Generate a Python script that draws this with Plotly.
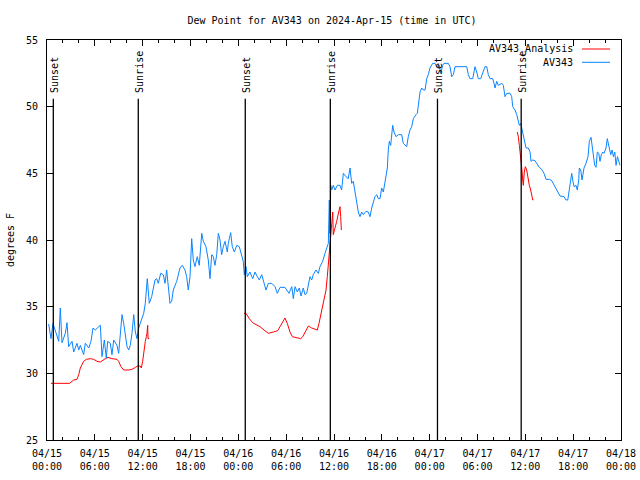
import pandas as pd
import plotly.graph_objects as go

BASE = pd.Timestamp("2024-04-15 00:00")

# AV343 observations: hours after 2024-04-15 00:00 UTC, dew point (deg F)
av343_hours = [0.21, 0.50, 0.75, 1.13, 1.47, 1.67, 1.88, 2.30, 2.51, 2.72, 3.14, 3.35, 3.76, 3.98, 4.18,
               4.60, 4.80, 5.23, 5.52, 5.77, 6.06, 6.49, 6.69, 6.90, 7.19, 7.44, 7.61, 7.94, 8.15, 8.37,
               8.78, 8.99, 9.41, 9.62, 9.82, 10.04, 10.25, 10.45, 10.66, 10.88, 11.08, 11.29, 11.50, 11.79,
               12.13, 12.33, 12.51, 12.58, 12.83, 13.13, 13.55, 13.76, 13.96, 14.26, 14.59, 14.80, 15.01,
               15.22, 15.43, 15.64, 15.84, 16.27, 16.68, 16.97, 17.31, 17.52, 17.72, 17.94, 18.15, 18.35,
               18.56, 18.85, 19.10, 19.41, 19.61, 19.94, 20.23, 20.45, 20.66, 20.86, 21.07, 21.29, 21.49,
               21.70, 21.91, 22.11, 22.33, 22.62, 22.74, 23.04, 23.24, 23.50, 23.80, 24.12, 24.42, 24.62,
               24.75, 24.96, 25.13, 25.46, 25.80, 26.09, 26.38, 26.63, 26.93, 27.22, 27.47, 27.76, 28.19,
               28.60, 28.89, 29.23, 29.85, 30.07, 30.36, 30.70, 30.90, 31.11, 31.40, 31.65, 31.86, 32.15,
               32.36, 32.58, 32.78, 32.99, 33.20, 33.40, 33.74, 34.03, 34.24, 34.58, 34.87, 35.09, 35.29,
               35.41, 35.50, 35.59, 35.71, 35.91, 36.13, 36.42, 36.75, 36.96, 37.17, 37.50, 37.79, 38.01,
               38.22, 38.42, 38.63, 38.85, 39.05, 39.26, 39.47, 39.68, 40.01, 40.30, 40.52, 40.73, 40.93,
               41.14, 41.36, 41.56, 41.77, 41.98, 42.19, 42.40, 42.52, 42.69, 42.81, 42.94, 43.11, 43.36,
               43.53, 43.78, 44.07, 44.49, 44.69, 45.12, 45.32, 45.53, 45.75, 45.95, 46.29, 46.45, 46.58,
               46.79, 47.00, 47.20, 47.42, 47.63, 47.83, 48.04, 48.38, 48.67, 48.88, 49.21, 49.38, 49.63,
               49.80, 50.34, 50.55, 50.76, 50.97, 51.18, 51.81, 52.65, 52.85, 53.06, 53.40, 53.69, 53.90,
               54.10, 54.40, 54.73, 54.94, 55.16, 55.36, 55.57, 55.91, 56.07, 56.20, 56.41, 56.61, 57.04,
               57.24, 57.45, 57.67, 58.08, 58.29, 58.42, 58.70, 58.92, 59.12, 59.25, 59.42, 59.62, 59.75,
               59.96, 60.09, 60.38, 60.59, 60.71, 60.93, 61.21, 61.50, 61.75, 62.05, 62.34, 62.59, 63.01,
               63.31, 63.60, 63.85, 64.14, 64.35, 64.85, 65.10, 65.32, 65.52, 65.69, 65.82, 65.94, 66.11,
               66.36, 66.52, 66.70, 66.77, 66.95, 67.11, 67.36, 67.61, 67.86, 68.03, 68.24, 68.36, 68.53,
               68.70, 68.87, 69.03, 69.21, 69.37, 69.53, 69.71, 69.87, 70.12, 70.28, 70.46, 70.71, 70.88,
               71.05, 71.22, 71.38, 71.55, 71.72, 71.88]
av343_dewpt = [33.7, 32.6, 33.75, 33.1, 32.4, 34.9, 32.3, 33.0, 33.8, 32.0, 32.4, 31.6, 32.25, 31.75, 32.1,
               31.4, 32.25, 31.9, 32.4, 33.4, 33.25, 33.5, 33.6, 31.25, 32.5, 31.15, 32.4, 32.25, 31.4, 32.5,
               32.1, 31.5, 34.4, 33.75, 33.0, 32.0, 31.75, 32.1, 33.0, 34.4, 33.1, 32.6, 33.4, 33.9,
               34.5, 35.25, 37.0, 37.1, 35.25, 35.75, 37.0, 37.1, 36.75, 37.5, 37.4, 36.75, 37.75,
               36.25, 35.25, 35.4, 36.25, 36.9, 37.9, 38.1, 37.75, 37.25, 36.25, 37.25, 40.1, 38.5,
               38.0, 38.75, 38.1, 40.5, 39.9, 39.5, 38.5, 37.1, 38.9, 38.75, 38.1, 38.9, 40.5,
               40.0, 38.9, 39.5, 39.9, 39.1, 39.75, 40.55, 39.5, 39.1, 39.6, 39.5, 38.9, 38.4,
               37.4, 38.0, 37.25, 37.6, 37.1, 37.6, 37.25, 37.0, 37.4, 36.75, 36.25, 36.75, 36.75,
               36.5, 36.0, 36.45, 36.45, 36.25, 36.0, 36.5, 35.6, 36.5, 36.1, 36.4, 35.8, 36.4,
               35.9, 36.0, 36.75, 37.25, 37.0, 37.4, 37.75, 37.5, 38.0, 38.4, 39.0, 39.5, 39.75,
               43.0, 40.5, 44.1, 43.75, 44.1, 43.75, 44.1, 44.1, 43.75, 45.0, 44.75, 44.6, 45.4,
               44.25, 44.4, 43.6, 42.9, 42.1, 41.75, 42.1, 41.9, 42.15, 42.1, 41.75, 42.4, 42.9,
               43.25, 43.4, 43.1, 43.1, 43.9, 43.6, 44.25, 44.6, 45.4, 46.75, 47.4, 47.1, 48.6,
               48.1, 47.75, 47.9, 47.9, 47.25, 47.0, 47.75, 48.25, 48.5, 49.1, 49.4, 49.5, 50.1,
               51.1, 51.4, 51.25, 51.25, 52.1, 52.4, 52.9, 53.25, 53.25, 53.0, 53.1, 52.5, 53.1,
               53.25, 53.25, 53.0, 52.25, 52.4, 53.0, 53.0, 53.0, 52.4, 52.1, 52.1, 53.0, 52.6,
               52.1, 52.1, 52.6, 53.0, 53.0, 52.4, 52.1, 52.1, 51.75, 51.4, 51.9, 51.6, 51.75,
               51.6, 50.75, 51.0, 51.0, 50.75, 50.0, 49.75, 49.4, 48.9, 48.6, 48.75, 48.25, 47.75,
               47.25, 46.9, 46.9, 46.6, 45.9, 46.0, 45.95, 45.7, 45.45, 45.3, 45.0, 44.55, 44.55,
               44.45, 44.1, 43.9, 43.55, 43.3, 43.25, 43.0, 43.0, 43.75, 44.6, 45.0, 44.5, 44.0,
               44.1, 43.75, 44.5, 45.4, 45.25, 44.5, 45.4, 45.75, 46.25, 47.4, 47.7, 47.1, 46.25,
               45.6, 45.45, 46.6, 46.5, 45.9, 46.4, 46.6, 46.5, 46.9, 47.6, 47.0, 46.4, 46.75,
               46.25, 46.6, 45.6, 46.25, 45.9, 45.6]

# AV343_Analysis: three separate runs
analysis_run1_hours = [0.50, 2.85, 3.14, 3.35, 3.76, 3.98, 4.18, 4.39, 4.60, 4.93, 5.43, 5.86, 6.27, 6.69,
                       7.02, 7.31, 7.65, 8.15, 8.78, 8.99, 9.28, 9.62, 10.25, 10.66, 11.08, 11.38, 11.70,
                       11.83, 12.00, 12.13, 12.33, 12.46, 12.54, 12.63, 12.67, 12.83]
analysis_run1_dewpt = [29.25, 29.25, 29.4, 29.5, 29.55, 29.9, 30.4, 30.6, 30.9, 31.05, 31.1, 31.05, 30.9, 30.85,
                       31.0, 31.1, 31.2, 31.1, 31.05, 30.9, 30.5, 30.25, 30.25, 30.3, 30.45, 30.55, 30.55,
                       30.4, 30.9, 31.6, 32.4, 32.75, 33.0, 33.6, 32.6, 32.6]
analysis_run2_hours = [24.71, 24.96, 25.38, 25.80, 26.22, 26.72, 27.22, 27.76, 28.39, 28.94, 29.23, 29.57,
                       29.85, 30.14, 30.48, 30.77, 31.32, 31.82, 32.08, 32.36, 32.78, 33.20, 33.62, 33.91,
                       34.12, 34.33, 34.58, 34.78, 35.00, 35.16, 35.29, 35.41, 35.59, 35.71, 35.84, 35.91,
                       36.09, 36.34, 36.59, 36.75, 36.84, 36.92]
analysis_run2_dewpt = [34.5, 34.5, 34.1, 33.8, 33.65, 33.5, 33.25, 33.0, 33.1, 33.2, 33.5, 33.9,
                       34.15, 33.75, 33.1, 32.75, 32.7, 32.6, 32.75, 33.1, 33.55, 33.4, 33.3, 33.25,
                       33.75, 34.4, 35.1, 35.75, 36.25, 37.25, 38.25, 39.5, 40.9, 41.6, 42.1, 40.4,
                       40.75, 41.4, 42.1, 42.5, 41.75, 40.75]
analysis_run3_hours = [58.99, 59.12, 59.25, 59.42, 59.58, 59.67, 59.75, 59.87, 60.00, 60.17, 60.34, 60.50,
                       60.67, 60.80, 60.93, 61.00]
analysis_run3_dewpt = [48.1, 47.75, 47.1, 46.25, 45.25, 44.5, 44.1, 45.1, 45.5, 45.25, 44.6, 44.1,
                       43.75, 43.25, 43.0, 43.0]

# Sun events (hours after 2024-04-15 00:00 UTC)
sun_labels = ["Sunset", "Sunrise", "Sunset", "Sunrise", "Sunset", "Sunrise"]
sun_hours = [0.79, 11.45, 24.87, 35.54, 48.98, 59.48]

FONT = "DejaVu Sans Mono"
BLUE = "#0a84ff"
RED = "#ff0000"


def to_time(hours):
    return [BASE + pd.Timedelta(hours=h) for h in hours]


red_x, red_y = [], []
for hs, vs in [(analysis_run1_hours, analysis_run1_dewpt),
               (analysis_run2_hours, analysis_run2_dewpt),
               (analysis_run3_hours, analysis_run3_dewpt)]:
    if red_x:
        red_x.append(None)
        red_y.append(None)
    red_x += to_time(hs)
    red_y += vs

fig = go.Figure()
fig.add_trace(go.Scatter(x=red_x, y=red_y, mode="lines", name="AV343_Analysis",
                         line=dict(color=RED, width=1), connectgaps=False, showlegend=False))
fig.add_trace(go.Scatter(x=to_time(av343_hours), y=av343_dewpt, mode="lines", name="AV343",
                         line=dict(color=BLUE, width=1), showlegend=False))

LINE_TOP = 50.6
for lab, h in zip(sun_labels, sun_hours):
    t = BASE + pd.Timedelta(hours=h)
    fig.add_shape(type="line", x0=t, x1=t, y0=25, y1=LINE_TOP, xref="x", yref="y",
                  line=dict(color="black", width=1.3), layer="above")
    fig.add_annotation(x=t, y=LINE_TOP, xref="x", yref="y", text=lab, textangle=-90,
                       showarrow=False, xanchor="center", yanchor="bottom", yshift=4, xshift=1,
                       font=dict(family=FONT, size=10, color="black"))

# gnuplot-style legend (text right, sample line after it)
for i, (name, col) in enumerate([("AV343_Analysis", RED), ("AV343", BLUE)]):
    ypx = 49 + i * 13.3
    yp = 1 - (ypx - 40) / 400
    fig.add_annotation(x=(575 - 47) / 574, y=yp, xref="paper", yref="paper", text=name,
                       showarrow=False, xanchor="right", yanchor="middle",
                       font=dict(family=FONT, size=10, color="black"))
    fig.add_shape(type="line", xref="paper", yref="paper",
                  x0=(582 - 47) / 574, x1=(610 - 47) / 574, y0=yp, y1=yp,
                  line=dict(color=col, width=1))

fig.update_layout(
    width=640, height=480,
    margin=dict(l=47, r=19, t=40, b=40, autoexpand=False),
    paper_bgcolor="white", plot_bgcolor="white",
    font=dict(family=FONT, size=10, color="black"),
    title=dict(text="Dew Point for AV343 on 2024-Apr-15 (time in UTC)", x=332 / 640, xanchor="center",
               y=1 - 20 / 480, yanchor="middle", font=dict(family=FONT, size=10, color="black")),
    showlegend=False,
)
fig.update_xaxes(type="date", range=[BASE, BASE + pd.Timedelta(hours=72)], automargin=False,
                 tick0=BASE, dtick=6 * 3600 * 1000, tickformat="%m/%d<br>%H:%M",
                 ticks="inside", ticklen=6, tickcolor="black", mirror="allticks", ticklabelstandoff=4,
                 showline=True, linecolor="black", linewidth=1, showgrid=False, zeroline=False,
                 minor=dict(dtick=2 * 3600 * 1000, ticks="inside", ticklen=3, tickcolor="black", showgrid=False),
                 tickfont=dict(family=FONT, size=10, color="black"))
fig.update_yaxes(range=[25, 55], dtick=5, tick0=25, ticks="inside", ticklen=6, tickcolor="black",
                 mirror="allticks", showline=True, linecolor="black", linewidth=1, showgrid=False,
                 zeroline=False, automargin=False, ticklabelstandoff=6,
                 tickfont=dict(family=FONT, size=10, color="black"),
                 title=dict(text="degrees F", standoff=9, font=dict(family=FONT, size=10, color="black")))

fig.write_html("out.html", config={"displayModeBar": False},
               post_script="document.body.style.margin='0';document.body.style.padding='0';")
